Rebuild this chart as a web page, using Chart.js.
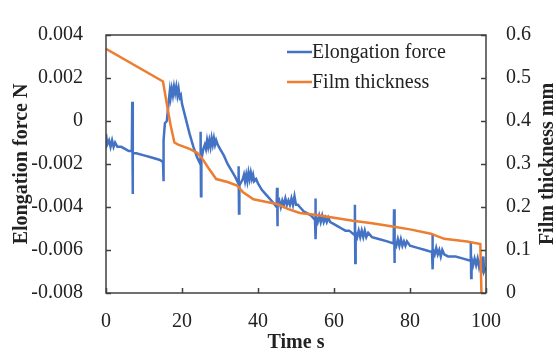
<!DOCTYPE html>
<html>
<head>
<meta charset="utf-8">
<script src="https://cdn.jsdelivr.net/npm/chart.js@4.4.0/dist/chart.umd.min.js"></script>
<style>
  html, body { margin: 0; padding: 0; background: #fff; }
  #wrap { width: 556px; height: 356px; }
</style>
</head>
<body>
<div id="wrap"><canvas id="filmChart" width="556" height="356"></canvas></div>
<script>
// Elongation force (N) over time (s)
const forceTime = [
    0, 0.3, 0.8, 1.2, 1.6, 2.0, 2.4, 3, 4, 5, 6, 6.8, 6.9, 7.0, 7.1, 8, 10, 12, 14, 15, 15.1, 15.2, 15.5, 16,
    16.5, 16.8, 17.0, 17.3, 17.6, 17.9, 18.2, 18.5, 18.8, 19.1, 19.4, 19.7, 20, 21, 22, 23, 24, 24.8, 24.9, 25.0, 25.1,
    25.6, 26.0, 26.3, 26.6, 26.9, 27.2, 27.5, 27.8, 28.1, 28.4, 28.7, 29.0, 29.4, 30, 31, 32, 33, 34, 34.8, 34.9, 35.0, 35.1,
    36, 36.3, 36.6, 36.9, 37.2, 37.5, 37.8, 38.1, 38.4, 38.7, 39.0, 39.5, 40, 41, 42, 43, 44, 44.9, 45.0, 45.1, 45.2,
    45.6, 46, 46.4, 46.8, 47.2, 47.6, 48, 48.4, 48.8, 49.2, 49.6, 50, 50.5, 51, 52, 53, 54, 55, 55.1, 55.2, 55.3,
    55.7, 56.1, 56.5, 56.9, 57.3, 57.7, 58.1, 58.5, 59, 60, 61, 62, 63, 64, 65.4, 65.5, 65.6, 65.7,
    66.1, 66.5, 66.9, 67.3, 67.7, 68.1, 68.5, 69, 70, 72, 74, 75.7, 75.8, 75.9, 76,
    76.4, 76.8, 77.2, 77.6, 78, 78.4, 78.8, 79.2, 80, 82, 84, 85.8, 85.9, 86.0, 86.1,
    86.5, 86.9, 87.3, 87.7, 88.1, 88.5, 89, 90, 92, 94, 95.9, 96.0, 96.1, 96.2,
    96.6, 97, 97.4, 97.8, 98.2, 98.6, 99, 99.3, 99.5, 100
];
const forceValues = [
    -0.0006, -0.0011, -0.0009, -0.0012, -0.0009, -0.0012, -0.0010, -0.0012, -0.0012, -0.0013, -0.0014, -0.0014, 0.0009, -0.0034, -0.0015, -0.0015, -0.0016, -0.0017, -0.0018, -0.0019, -0.0028, -0.0009, -0.0001, 0.0000,
    0.0009, 0.0014, 0.0011, 0.0015, 0.0012, 0.0016, 0.0013, 0.0016, 0.0012, 0.0015, 0.0011, 0.0012, 0.0008, 0.0001, -0.0006, -0.0012, -0.0017, -0.0020, -0.0005, -0.0035, -0.0018,
    -0.0013, -0.0011, -0.0013, -0.0009, -0.0012, -0.0009, -0.0012, -0.0008, -0.0011, -0.0008, -0.0011, -0.0009, -0.0011, -0.0013, -0.0016, -0.0020, -0.0023, -0.0026, -0.0029, -0.0021, -0.0043, -0.0030,
    -0.0027, -0.0025, -0.0028, -0.0025, -0.0028, -0.0024, -0.0027, -0.0024, -0.0027, -0.0025, -0.0028, -0.0027, -0.0029, -0.0032, -0.0034, -0.0036, -0.0038, -0.0040, -0.0031, -0.0049, -0.0039,
    -0.0037, -0.0040, -0.0037, -0.0039, -0.0036, -0.0039, -0.0037, -0.0039, -0.0036, -0.0039, -0.0035, -0.0039, -0.0039, -0.0040, -0.0042, -0.0043, -0.0044, -0.0046, -0.0036, -0.0055, -0.0045,
    -0.0047, -0.0044, -0.0047, -0.0044, -0.0047, -0.0045, -0.0047, -0.0045, -0.0047, -0.0048, -0.0049, -0.0050, -0.0051, -0.0051, -0.0053, -0.0039, -0.0066, -0.0052,
    -0.0054, -0.0051, -0.0054, -0.0051, -0.0054, -0.0051, -0.0054, -0.0052, -0.0054, -0.0055, -0.0056, -0.0057, -0.0041, -0.0066, -0.0056,
    -0.0058, -0.0055, -0.0058, -0.0055, -0.0058, -0.0056, -0.0058, -0.0056, -0.0058, -0.0059, -0.0060, -0.0061, -0.0053, -0.0069, -0.0060,
    -0.0062, -0.0059, -0.0062, -0.0060, -0.0063, -0.0060, -0.0062, -0.0063, -0.0063, -0.0064, -0.0065, -0.0056, -0.0073, -0.0064,
    -0.0067, -0.0064, -0.0067, -0.0064, -0.0068, -0.0065, -0.0068, -0.0063, -0.0070, -0.0068
];

// Film thickness (mm) over time (s)
const thicknessTime = [0, 15, 16, 17, 18, 19, 22, 24, 25.3, 27, 29, 32, 34.5, 36, 38.8, 42, 45, 48, 51, 55, 60, 65, 70, 75, 80, 85.5, 89, 95, 98.5, 98.8];
const thicknessValues = [0.568, 0.492, 0.44, 0.39, 0.35, 0.345, 0.335, 0.326, 0.313, 0.29, 0.265, 0.258, 0.25, 0.235, 0.218, 0.212, 0.207, 0.195, 0.186, 0.182, 0.175, 0.168, 0.162, 0.155, 0.148, 0.138, 0.126, 0.12, 0.114, 0];

const timeTicks = [0, 20, 40, 60, 80, 100];
const forceTicks = [-0.008, -0.006, -0.004, -0.002, 0, 0.002, 0.004];
const thicknessTicks = [0, 0.1, 0.2, 0.3, 0.4, 0.5, 0.6];

const seriesNames = ['Elongation force', 'Film thickness'];
const BLUE = '#4472C4';
const ORANGE = '#ED7D31';
const SERIF = '"Liberation Serif", "Times New Roman", serif';
const INK = '#222';

function pairs(xs, ys) {
    return xs.map(function(x, i) { return { x: x, y: ys[i] }; });
}

function fixTicks(list) {
    return function(scale) {
        scale.ticks = list.map(function(v) { return { value: v }; });
    };
}

// frame, inward tick marks, axis titles and legend
const decorations = {
    id: 'decorations',
    afterDraw: function(chart) {
        const ctx = chart.ctx;
        const a = chart.chartArea;
        const s = chart.scales;
        ctx.save();
        ctx.strokeStyle = '#404040';
        ctx.lineWidth = 1.5;
        ctx.strokeRect(a.left, a.top, a.right - a.left, a.bottom - a.top);

        ctx.beginPath();
        forceTicks.forEach(function(v) {
            const y = Math.round(s.y.getPixelForValue(v)) + 0.5;
            ctx.moveTo(a.left, y); ctx.lineTo(a.left + 5, y);
        });
        thicknessTicks.forEach(function(v) {
            const y = Math.round(s.y2.getPixelForValue(v)) + 0.5;
            ctx.moveTo(a.right, y); ctx.lineTo(a.right - 5, y);
        });
        timeTicks.forEach(function(v) {
            const x = Math.round(s.x.getPixelForValue(v)) + 0.5;
            ctx.moveTo(x, a.bottom); ctx.lineTo(x, a.bottom - 5);
        });
        ctx.stroke();

        // axis titles
        ctx.fillStyle = INK;
        ctx.font = 'bold 20px ' + SERIF;
        ctx.textAlign = 'center';
        ctx.textBaseline = 'middle';
        ctx.fillText('Time s', (a.left + a.right) / 2, 343);
        ctx.save();
        ctx.translate(22, (a.top + a.bottom) / 2);
        ctx.rotate(-Math.PI / 2);
        ctx.fillText('Elongation force N', 0, 0);
        ctx.restore();
        ctx.save();
        ctx.translate(548, (a.top + a.bottom) / 2);
        ctx.rotate(-Math.PI / 2);
        ctx.fillText('Film thickness mm', 0, 0);
        ctx.restore();

        // legend
        const colors = [BLUE, ORANGE];
        ctx.font = '20px ' + SERIF;
        ctx.textAlign = 'left';
        seriesNames.forEach(function(name, i) {
            const y = 52 + i * 30;
            ctx.strokeStyle = colors[i];
            ctx.lineWidth = 2.5;
            ctx.beginPath();
            ctx.moveTo(287, y); ctx.lineTo(312, y);
            ctx.stroke();
            ctx.fillStyle = INK;
            ctx.fillText(name, 312, y + 1);
        });
        ctx.restore();
    }
};

const ctx = document.getElementById('filmChart').getContext('2d');
new Chart(ctx, {
    type: 'line',
    data: {
        datasets: [
            {
                label: seriesNames[0],
                data: pairs(forceTime, forceValues),
                yAxisID: 'y',
                borderColor: BLUE,
                borderWidth: 2.5,
                pointRadius: 0,
                tension: 0,
                order: 1
            },
            {
                label: seriesNames[1],
                data: pairs(thicknessTime, thicknessValues),
                yAxisID: 'y2',
                borderColor: ORANGE,
                borderWidth: 2.5,
                pointRadius: 0,
                tension: 0,
                order: 0
            }
        ]
    },
    options: {
        responsive: false,
        animation: false,
        devicePixelRatio: 1,
        layout: { padding: { top: 15, left: 0, right: 0, bottom: 0 } },
        plugins: {
            legend: { display: false },
            tooltip: { enabled: false }
        },
        scales: {
            x: {
                type: 'linear',
                min: 0,
                max: 100,
                afterBuildTicks: fixTicks(timeTicks),
                afterFit: function(scale) { scale.height = 63; },
                grid: { display: false, drawTicks: false },
                border: { display: false },
                ticks: {
                    padding: 17,
                    color: INK,
                    font: { family: SERIF, size: 20 },
                    maxRotation: 0
                }
            },
            y: {
                position: 'left',
                min: -0.008,
                max: 0.004,
                afterBuildTicks: fixTicks(forceTicks),
                afterFit: function(scale) { scale.width = 106; },
                grid: { display: false, drawTicks: false },
                border: { display: false },
                ticks: {
                    padding: 23,
                    color: INK,
                    font: { family: SERIF, size: 20 },
                    callback: function(v) { return Math.abs(v) < 1e-9 ? '0' : v.toFixed(3); }
                }
            },
            y2: {
                position: 'right',
                min: 0,
                max: 0.6,
                afterBuildTicks: fixTicks(thicknessTicks),
                afterFit: function(scale) { scale.width = 70; },
                grid: { display: false, drawTicks: false },
                border: { display: false },
                ticks: {
                    padding: 20,
                    color: INK,
                    font: { family: SERIF, size: 20 },
                    callback: function(v) { return Math.abs(v) < 1e-9 ? '0' : v.toFixed(1); }
                }
            }
        }
    },
    plugins: [decorations]
});
</script>
</body>
</html>
